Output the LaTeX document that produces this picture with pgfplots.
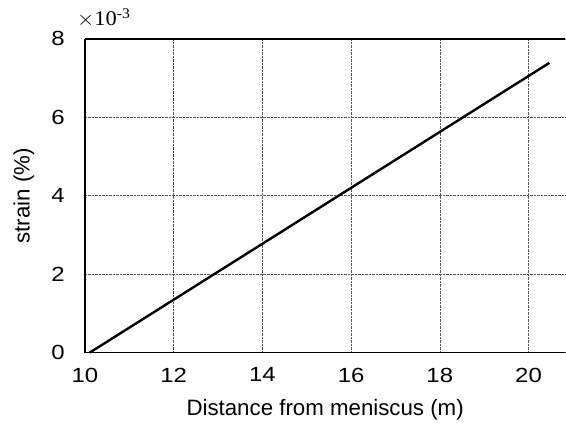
\documentclass[border=0pt]{standalone}
\usepackage{pgfplots}
\pgfplotsset{compat=1.18}
\usepackage{fontspec}
\setmainfont{Liberation Sans}
\newfontfamily\seriffont{Liberation Serif}
\begin{document}
\begin{tikzpicture}
\begin{axis}[
  name=ax,
  scale only axis,
  width=481pt, height=314pt,
  xmin=10, xmax=20.83, ymin=0, ymax=8,
  axis x line=box, axis y line=left,
  axis line style={-, line width=1.3pt, black},
  xtick={10,12,14,16,18,20},
  ytick={0,2,4,6,8},
  major tick length=0pt,
  grid=major,
  major grid style={densely dotted, gray!70!black, line width=0.6pt},
  tick label style={font=\fontsize{20.5}{22}\selectfont, xscale=1.17, inner sep=0pt},
  /pgf/number format/assume math mode=true,
  xticklabel style={anchor=north, yshift=-15pt},
  yticklabel style={anchor=east, xshift=-17pt},
  xlabel={Distance from meniscus (m)},
  ylabel={strain (\%)},
  label style={font=\fontsize{22.3}{25}\selectfont, inner sep=0pt},
  xlabel style={at={(rel axis cs:0.5,0)}, anchor=center, yshift=-57pt},
  ylabel style={at={(rel axis cs:0,0.5)}, anchor=center, yshift=61pt},
  clip=false,
]
\addplot[black, line width=2.4pt] coordinates {(10.11,0) (20.47,7.39)};
\node[anchor=base west, font=\seriffont\fontsize{21}{24}\selectfont, xscale=1.07, inner sep=0pt] at ([xshift=-8pt,yshift=13pt]rel axis cs:0,1) {$\times$10\textsuperscript{-3}};
\end{axis}
\path[use as bounding box] ([xshift=-85pt,yshift=-72pt]ax.south west) rectangle ([yshift=39pt]ax.north east);
\end{tikzpicture}
\end{document}
